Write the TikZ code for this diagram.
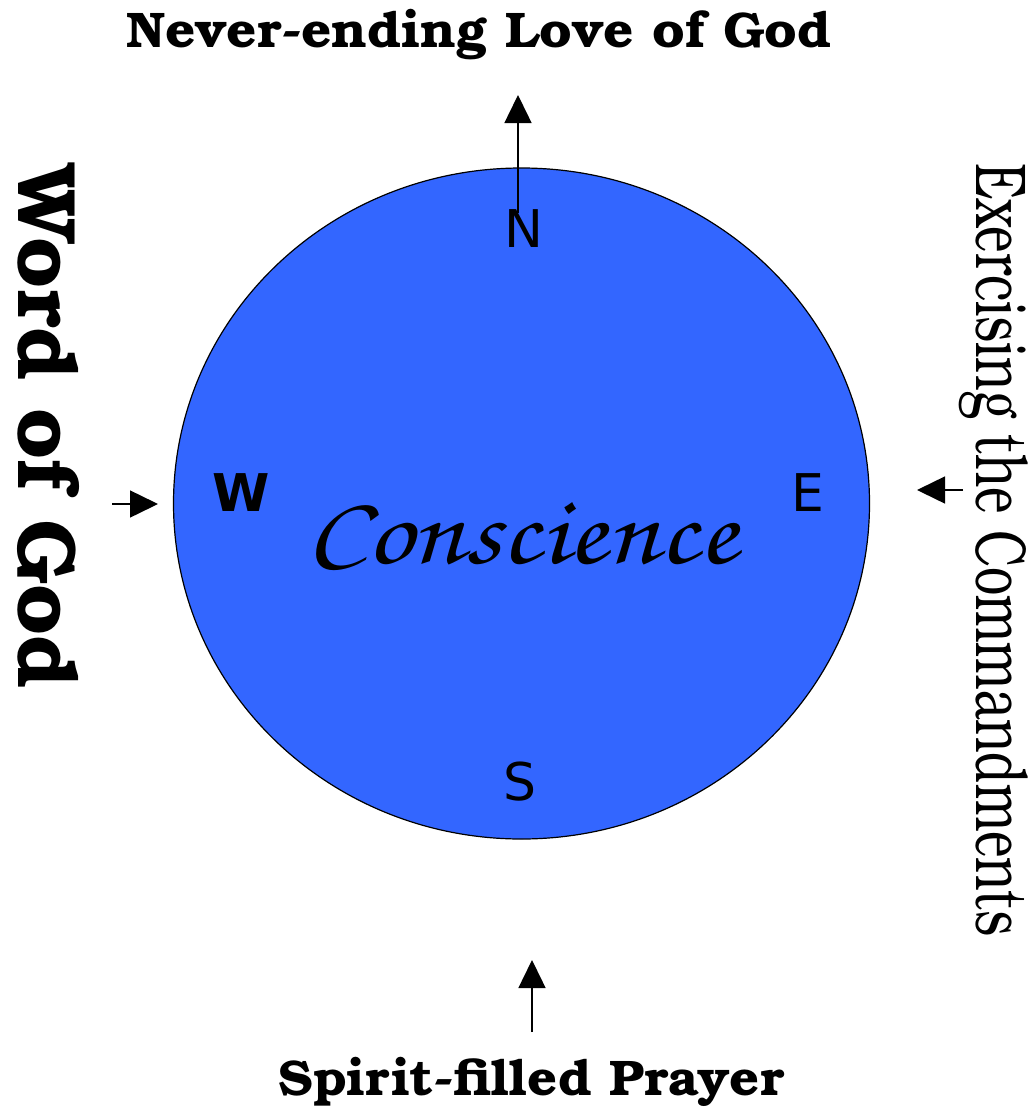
\documentclass[tikz,border=0pt]{standalone}
\usepackage{fontspec}
\usepackage{graphicx}
\usetikzlibrary{arrows.meta,positioning,shapes.geometric}
\newfontfamily\bookfont{texgyrebonum}[Extension=.otf,UprightFont=*-regular,BoldFont=*-bold]
\newfontfamily\handfont{texgyrechorus-mediumitalic.otf}
\newfontfamily\compassfont{DejaVu Sans}
\definecolor{dial}{RGB}{51,102,255}
\tikzset{
  face/.style={ellipse, draw=black, line width=1.2pt, fill=dial, inner sep=0pt},
  pt/.style={inner sep=0pt, font=\compassfont\fontsize{52}{52}\selectfont},
  ttl/.style={inner sep=0pt, anchor=base, font=\bookfont\bfseries\fontsize{50}{50}\selectfont},
  side/.style={inner sep=0pt, anchor=base, rotate=-90},
  ar/.style={-{Triangle[length=28pt,width=27pt]}, line width=1.5pt},
}

\begin{document}
\begin{tikzpicture}[x=1pt,y=-1pt]
\useasboundingbox (0,0) rectangle (1034,1111);
% compass face
\node[face, minimum width=696pt, minimum height=671pt] (dialface) at (521.5,503.5) {};
\node[inner sep=0pt, anchor=base, font=\handfont\fontsize{98}{98}\selectfont] (consc) at (522,563) {\scalebox{1.17}[1]{Conscience}};
% points
\node[pt] (ptN) at (524,229) {N};
\node[pt] (ptS) at (519.5,781.5) {S};
\node[pt] (ptE) at (808,493) {E};
\node[pt, font=\compassfont\bfseries\fontsize{52}{52}\selectfont] (ptW) at (241,493) {W};
% labels
\node[ttl] (love) at (479,47) {\scalebox{1.06}[1]{Never-ending Love of God}};
\node[ttl] (prayer) at (531.5,1095) {\scalebox{1.05}[1]{Spirit-filled Prayer}};
\node[side, font=\bookfont\bfseries\fontsize{83}{83}\selectfont] (word) at (18,426.5) {Word of God};
\node[side, font=\bookfont\fontsize{72}{72}\selectfont] (cmds) at (976,550) {\scalebox{0.70}[1]{Exercising the Commandments}};
% arrows
\coordinate (nFrom) at (518,213);
\coordinate (nTo) at (518,95);
\coordinate (sFrom) at (532,1032);
\coordinate (sTo) at (532,960);
\coordinate (wFrom) at (112,504);
\coordinate (wTo) at (158,504);
\coordinate (eFrom) at (963,490);
\coordinate (eTo) at (917,490);
\draw[ar] (nFrom) -- (nTo);
\draw[ar] (sFrom) -- (sTo);
\draw[ar] (wFrom) -- (wTo);
\draw[ar] (eFrom) -- (eTo);
\end{tikzpicture}
\end{document}
